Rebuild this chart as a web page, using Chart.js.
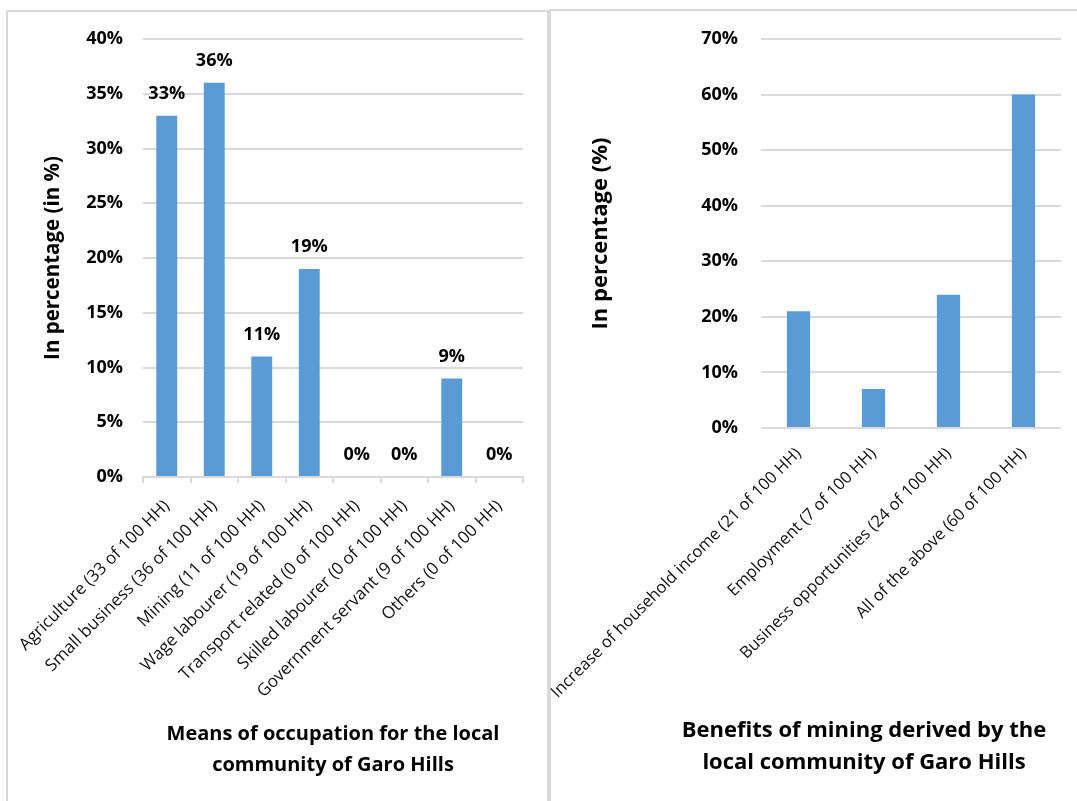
<!DOCTYPE html>
<html>
<head>
<meta charset="utf-8">
<script src="https://cdn.jsdelivr.net/npm/chart.js@4.4.1/dist/chart.umd.min.js"></script>
<style>
  body { margin: 0; background: #fff; width: 1077px; height: 801px; overflow: hidden; position: relative; font-family: "Open Sans", sans-serif; }
  .panel { position: absolute; border: 2px solid #d9d9d9; }
  #panel-left { left: 6px; top: 10px; width: 539px; height: 820px; }
  #panel-right { left: 549px; top: 9px; width: 560px; height: 820px; }
  canvas { position: absolute; top: 0; }
  #chart-left { left: 0; }
  #chart-right { left: 530px; }
  .x-title { position: absolute; font-weight: bold; text-align: center; color: #000; white-space: nowrap; }
  #title-left { left: 133px; width: 400px; top: 717px; font-size: 20px; line-height: 31px; }
  #title-right { left: 664px; width: 400px; top: 712px; font-size: 22px; line-height: 32px; }
</style>
</head>
<body>
<div class="panel" id="panel-left"></div>
<div class="panel" id="panel-right"></div>
<canvas id="chart-left" width="548" height="801"></canvas>
<canvas id="chart-right" width="547" height="801"></canvas>
<div class="x-title" id="title-left">Means of occupation for the local<br>community of Garo Hills</div>
<div class="x-title" id="title-right">Benefits of mining derived by the<br>local community of Garo Hills</div>

<script>
const occupationLabels = [
    "Agriculture (33 of 100 HH)",
    "Small business (36 of 100 HH)",
    "Mining (11 of 100 HH)",
    "Wage labourer (19 of 100 HH)",
    "Transport related (0 of 100 HH)",
    "Skilled labourer (0 of 100 HH)",
    "Government servant (9 of 100 HH)",
    "Others (0 of 100 HH)"
];
const occupationValues = [33, 36, 11, 19, 0, 0, 9, 0];

const benefitLabels = [
    "Increase of household income (21 of 100 HH)",
    "Employment (7 of 100 HH)",
    "Business opportunities (24 of 100 HH)",
    "All of the above (60 of 100 HH)"
];
const benefitValues = [21, 7, 24, 60];

const barColor = "#5b9bd5";
const gridColor = "#d9d9d9";
const fontFamily = "'Open Sans', sans-serif";

// value labels above the bars (left chart only)
const valueLabels = {
    id: "valueLabels",
    afterDatasetsDraw(chart) {
        const ctx = chart.ctx;
        const meta = chart.getDatasetMeta(0);
        ctx.save();
        ctx.font = "bold 18px " + fontFamily;
        ctx.fillStyle = "#000";
        ctx.textAlign = "center";
        ctx.textBaseline = "middle";
        meta.data.forEach((bar, i) => {
            ctx.fillText(chart.data.datasets[0].data[i] + "%", bar.x, bar.y - 22);
        });
        ctx.restore();
    }
};

function makeChart(id, labels, values, opts) {
    const ctx = document.getElementById(id).getContext("2d");
    return new Chart(ctx, {
        type: "bar",
        data: {
            labels: labels,
            datasets: [{
                data: values,
                backgroundColor: barColor,
                borderWidth: 0,
                categoryPercentage: 1,
                barPercentage: opts.barPercentage
            }]
        },
        plugins: opts.plugins || [],
        options: {
            responsive: false,
            animation: false,
            layout: { padding: { top: opts.padTop, right: opts.padRight, left: 0, bottom: 0 } },
            plugins: { legend: { display: false }, tooltip: { enabled: false } },
            scales: {
                x: {
                    grid: {
                        display: opts.xTicks,
                        drawOnChartArea: false,
                        drawTicks: opts.xTicks,
                        tickLength: 6,
                        color: gridColor,
                        lineWidth: 2
                    },
                    border: { display: opts.xTicks, color: gridColor, width: 2 },
                    ticks: {
                        autoSkip: false,
                        maxRotation: 45,
                        minRotation: 45,
                        padding: opts.xPad,
                        color: "#111",
                        font: { family: fontFamily, size: opts.xFontSize }
                    },
                    afterFit(scale) {
                        scale.height = opts.xHeight;
                        // keep long rotated labels from squeezing the plot area
                        scale.paddingLeft = 0;
                        scale.paddingRight = 0;
                    }
                },
                y: {
                    min: 0,
                    max: opts.yMax,
                    grid: { color: gridColor, lineWidth: 2, drawTicks: false },
                    border: { display: false },
                    ticks: {
                        stepSize: opts.yStep,
                        padding: opts.yPad,
                        color: "#000",
                        font: { family: fontFamily, size: 18, weight: "bold" },
                        callback: (v) => v + "%"
                    },
                    title: {
                        display: true,
                        text: opts.yTitle,
                        color: "#000",
                        font: { family: fontFamily, size: opts.yTitleSize, weight: "bold" },
                        padding: { top: opts.yTitlePad, bottom: 0 }
                    },
                    afterFit(scale) { scale.width = opts.yWidth; }
                }
            }
        }
    });
}

makeChart("chart-left", occupationLabels, occupationValues, {
    barPercentage: 0.44,
    padTop: 39,
    padRight: 25,
    xHeight: 324,
    xPad: 13,
    xFontSize: 17,
    yWidth: 143,
    yMax: 40,
    yStep: 5,
    yPad: 20,
    yTitle: "In percentage (in %)",
    yTitleSize: 20.5,
    yTitlePad: 41,
    xTicks: true,
    plugins: [valueLabels]
});

makeChart("chart-right", benefitLabels, benefitValues, {
    barPercentage: 0.31,
    padTop: 39,
    padRight: 16,
    xHeight: 373,
    xPad: 16,
    xFontSize: 16.5,
    yWidth: 231,
    yMax: 70,
    yStep: 10,
    yPad: 23,
    yTitle: "In percentage (%)",
    yTitleSize: 22,
    yTitlePad: 58,
    xTicks: false
});
</script>
</body>
</html>
